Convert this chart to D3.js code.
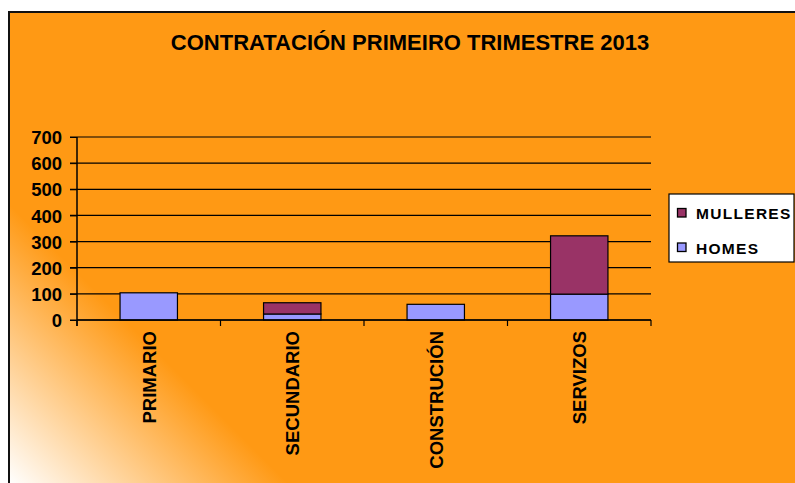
<!DOCTYPE html>
<html>
<head>
<meta charset="utf-8">
<script src="https://cdn.jsdelivr.net/npm/d3@7"></script>
<style>
body { margin: 0; background: #fff; }
text { font-family: Arial, "Liberation Sans", sans-serif; font-weight: bold; }
</style>
</head>
<body>
<script>
categories = ['PRIMARIO', 'SECUNDARIO', 'CONSTRUCIÓN', 'SERVIZOS']
homes = [104, 23, 60, 99]
mulleres = [0, 43, 0, 223]
seriesNames = ['HOMES', 'MULLERES']
yTicks = [0, 100, 200, 300, 400, 500, 600, 700]
title = 'CONTRATACIÓN PRIMEIRO TRIMESTRE 2013'

width = 795
height = 483
orange = '#FF9914'
colors = {HOMES: '#9999FF', MULLERES: '#993366'}

svg = d3.select('body')
    .append('svg')
    .attr('width', width)
    .attr('height', height)

// corner gradient, white in bottom-left
grad = svg.append('defs').append('linearGradient')
    .attr('id', 'bg')
    .attr('gradientUnits', 'userSpaceOnUse')
    .attr('x1', 8).attr('y1', 483)
    .attr('x2', 148).attr('y2', 343)
grad.append('stop').attr('offset', 0).attr('stop-color', '#ffffff')
grad.append('stop').attr('offset', 1).attr('stop-color', orange)

svg.append('rect')
    .attr('x', 9).attr('y', 12)
    .attr('width', 800).attr('height', 500)
    .style('fill', 'url(#bg)')
    .style('stroke', '#111')
    .style('stroke-width', 2)

svg.append('text')
    .text(title)
    .attr('x', 410)
    .attr('y', 50)
    .attr('text-anchor', 'middle')
    .style('font-size', '22px')

data = categories.map((c, i) => ({cat: c, HOMES: homes[i], MULLERES: mulleres[i]}))
stacked = d3.stack().keys(seriesNames)(data)

xScale = d3.scaleBand()
    .domain(categories)
    .range([77, 651])
    .paddingInner(0.6)
    .paddingOuter(0.3)

yScale = d3.scaleLinear()
    .domain([0, 700])
    .range([320, 137])

// gridlines
svg.append('g')
    .selectAll('line')
    .data(yTicks)
    .enter()
    .append('line')
    .attr('x1', 70)
    .attr('x2', 651)
    .attr('y1', d => yScale(d))
    .attr('y2', d => yScale(d))
    .style('stroke', '#000')
    .style('stroke-width', 1.2)

// bars
svg.append('g')
    .selectAll('g')
    .data(stacked)
    .enter()
    .append('g')
    .style('fill', d => colors[d.key])
    .selectAll('rect')
    .data(d => d.filter(p => p[1] > p[0]))
    .enter()
    .append('rect')
    .attr('x', d => xScale(d.data.cat))
    .attr('width', xScale.bandwidth())
    .attr('y', d => yScale(d[1]))
    .attr('height', d => yScale(d[0]) - yScale(d[1]))
    .style('stroke', '#000')
    .style('stroke-width', 1.2)

// y axis
yAxis = svg.append('g')
    .attr('transform', 'translate(77,0)')
    .call(d3.axisLeft(yScale).tickValues(yTicks).tickSize(7).tickPadding(8))
yAxis.select('.domain').attr('d', 'M0,' + yScale(700) + 'V326').style('stroke', '#000').style('stroke-width', 1.5)
yAxis.selectAll('.tick line').style('stroke', '#000')
yAxis.selectAll('text')
    .style('font-size', '18.5px')
    .style('font-family', 'Arial, "Liberation Sans", sans-serif')
    .style('fill', '#000')
    .attr('dy', '0.36em')

// x axis with ticks between categories
xAxis = svg.append('g')
    .attr('transform', 'translate(0,' + yScale(0) + ')')
xAxis.append('line')
    .attr('x1', 77).attr('x2', 651)
    .style('stroke', '#000')
    .style('stroke-width', 1.5)
boundaries = categories.map((c, i) => xScale(c) - xScale.step() * 0.3).concat([651])
xAxis.selectAll('line.tk')
    .data(boundaries)
    .enter()
    .append('line')
    .attr('class', 'tk')
    .attr('x1', d => d).attr('x2', d => d)
    .attr('y1', 0).attr('y2', 6)
    .style('stroke', '#000')
    .style('stroke-width', 1.2)
xAxis.selectAll('text')
    .data(categories)
    .enter()
    .append('text')
    .text(d => d)
    .attr('text-anchor', 'end')
    .attr('transform', d => 'translate(' + (xScale(d) + xScale.bandwidth() / 2 + 7) + ',11) rotate(-90)')
    .style('font-size', '18.5px')

// legend
legend = svg.append('g')
    .attr('transform', 'translate(669,194)')

legend.append('rect')
    .attr('width', 125)
    .attr('height', 68)
    .style('fill', '#fff')
    .style('stroke', '#000')
    .style('stroke-width', 1.2)

legendItems = ['MULLERES', 'HOMES']
legend.selectAll('rect.key')
    .data(legendItems)
    .enter()
    .append('rect')
    .attr('class', 'key')
    .attr('x', 8.5)
    .attr('y', (d, i) => 14.5 + i * 34.5)
    .attr('width', 8.5)
    .attr('height', 8.5)
    .style('fill', d => colors[d])
    .style('stroke', '#000')
    .style('stroke-width', 1.3)

legend.selectAll('text')
    .data(legendItems)
    .enter()
    .append('text')
    .text(d => d)
    .attr('x', 27)
    .attr('y', (d, i) => 25 + i * 34.5)
    .style('font-size', '15.5px')
    .style('letter-spacing', '1.3px')
</script>
</body>
</html>
